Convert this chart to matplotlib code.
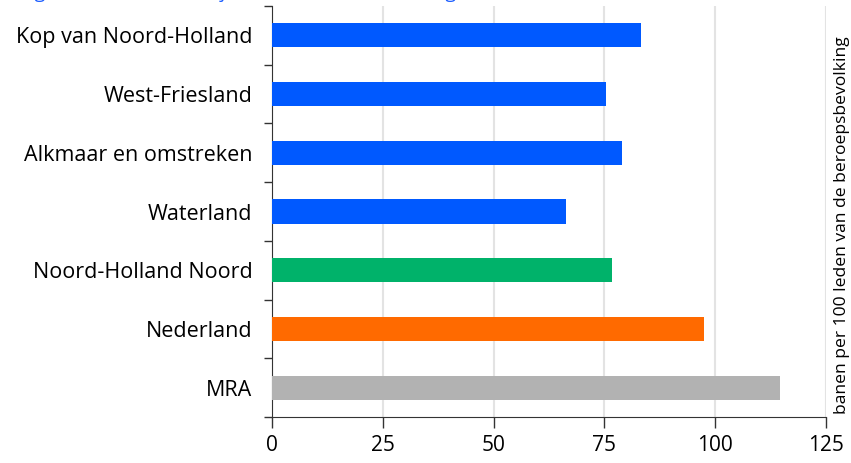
import matplotlib
matplotlib.use("Agg")
import matplotlib.pyplot as plt

plt.rcParams['font.family'] = ['Open Sans', 'DejaVu Sans']

# regions, top to bottom
regions = ["Kop van Noord-Holland", "West-Friesland", "Alkmaar en omstreken",
           "Waterland", "Noord-Holland Noord", "Nederland", "MRA"]
banen = [83.3, 75.4, 79.0, 66.3, 76.7, 97.5, 114.6]
colors = ["#0059ff", "#0059ff", "#0059ff", "#0059ff", "#00b26a", "#ff6a00", "#b2b2b2"]
xticks = [0, 25, 50, 75, 100, 125]

fig = plt.figure(figsize=(8.51, 4.63), dpi=100)
ax = fig.add_axes([272 / 851, 1 - 417 / 463, 554 / 851, 411 / 463])

ypos = list(range(len(regions)))
ax.barh(ypos, banen, height=0.41, color=colors, zorder=3)
ax.set_ylim(len(regions) - 0.5, -0.5)
ax.set_xlim(0, 125)

ax.set_xticks(xticks)
ax.set_xticklabels([str(t) for t in xticks], fontsize=15)
ax.set_yticks(ypos)
ax.set_yticklabels(regions, fontsize=15.5)
ax.tick_params(axis='y', length=0, pad=14)
ax.set_yticks([y - 0.5 for y in range(len(regions) + 1)], minor=True)
ax.tick_params(axis='y', which='minor', length=6, color='#333333', width=1)
ax.tick_params(axis='x', length=8, color='#333333', width=1, pad=5)

ax.grid(axis='x', color='#e3e3e3', linewidth=1.5, zorder=0)
for s in ['top', 'right']:
    ax.spines[s].set_visible(False)
ax.spines['left'].set_color('#333333')
ax.spines['bottom'].set_color('#333333')

fig.text(842 / 851, 1 - 225 / 463, "banen per 100 leden van de beroepsbevolking",
         rotation=90, ha='center', va='center', fontsize=12.6)

# title, mostly above the visible area
fig.text(20 / 851, 1.0 + 1.5 / 463, "Figuur 4  Banen in het jaar 2019 in de diverse regio's",
         color='#1a5cff', fontsize=13.8, ha='left', va='baseline')

fig.savefig("out.png", dpi=100)
